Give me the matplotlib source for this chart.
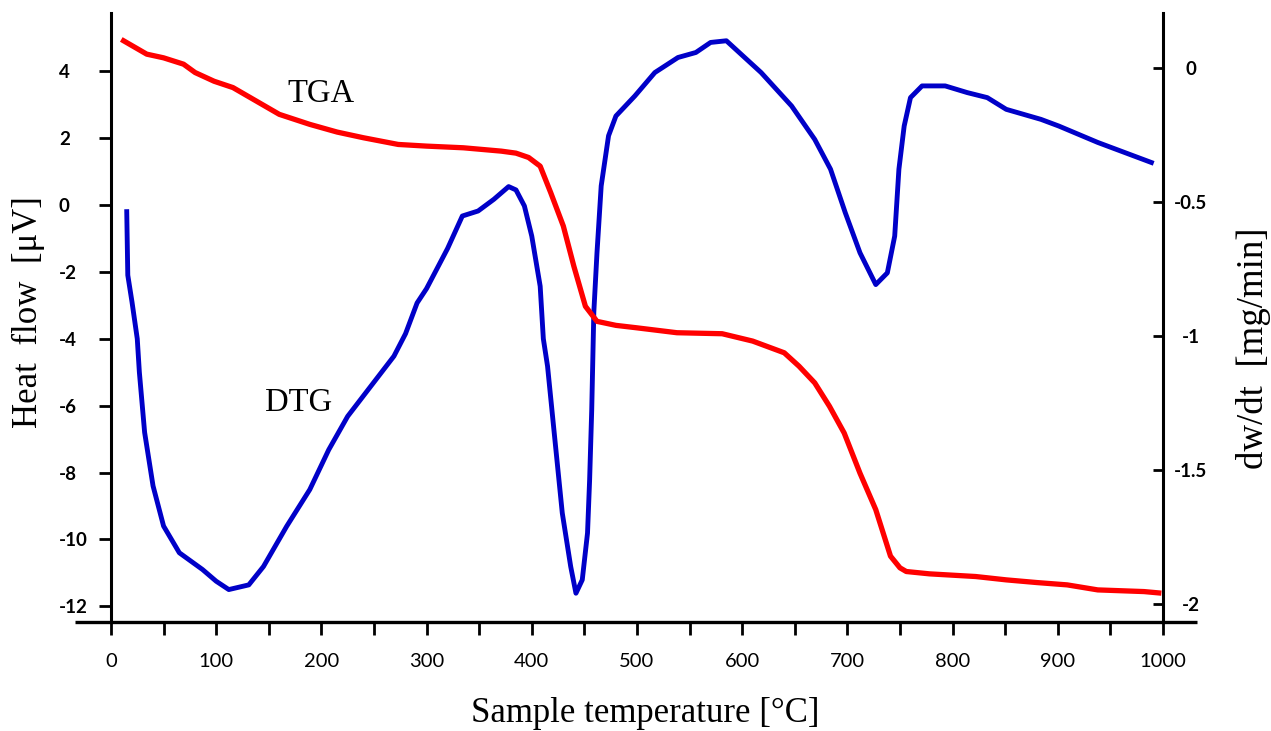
import matplotlib.pyplot as plt

plt.rcParams['axes.unicode_minus'] = False

# TGA curve (red) - temperature [°C] and value on the heat flow scale
tga_temp = [12, 23, 34, 50, 69, 80, 98, 116, 138, 160, 189, 215, 240, 273, 300,
            335, 371, 385, 397, 408, 418, 430, 440, 451, 462, 480, 499, 538, 581,
            610, 640, 654, 669, 683, 697, 712, 727, 741, 750, 756, 778, 822, 851,
            880, 909, 938, 982, 996]
tga_val = [4.91, 4.71, 4.51, 4.40, 4.21, 3.96, 3.70, 3.51, 3.11, 2.71, 2.41, 2.18,
           2.01, 1.81, 1.76, 1.71, 1.61, 1.55, 1.42, 1.16, 0.37, -0.63, -1.83,
           -3.03, -3.48, -3.60, -3.67, -3.82, -3.85, -4.07, -4.42, -4.82, -5.32,
           -6.02, -6.82, -8.02, -9.11, -10.50, -10.85, -10.96, -11.03, -11.11,
           -11.21, -11.29, -11.36, -11.51, -11.56, -11.60]

# DTG curve (blue)
dtg_temp = [15, 16, 20, 25, 27, 32, 40, 50, 65, 87, 100, 112, 131, 145, 167, 189,
            207, 225, 247, 269, 280, 291, 300, 320, 334, 349, 364, 378, 385, 393,
            400, 408, 411, 415, 422, 429, 437, 442, 448, 453, 455, 457, 459, 462,
            466, 473, 480, 498, 517, 539, 556, 570, 585, 618, 647, 669, 684, 698,
            712, 727, 738, 745, 749, 754, 760, 771, 793, 814, 833, 851, 884, 901,
            938, 989]
dtg_val = [-0.2, -2.1, -2.9, -4.0, -5.0, -6.8, -8.4, -9.6, -10.4, -10.9, -11.25,
           -11.5, -11.36, -10.81, -9.61, -8.51, -7.32, -6.32, -5.42, -4.52, -3.85,
           -2.93, -2.5, -1.3, -0.33, -0.18, 0.17, 0.55, 0.45, -0.03, -0.93, -2.43,
           -4.0, -4.82, -7.02, -9.21, -10.81, -11.61, -11.21, -9.81, -8.22, -6.12,
           -3.2, -1.43, 0.57, 2.07, 2.66, 3.26, 3.96, 4.41, 4.56, 4.86, 4.91, 3.96,
           2.96, 1.96, 1.07, -0.23, -1.43, -2.38, -2.03, -0.93, 1.07, 2.36, 3.21,
           3.56, 3.56, 3.36, 3.21, 2.86, 2.56, 2.36, 1.87, 1.27]

x_ticks = list(range(0, 1001, 50))
x_labels = [str(t) if t % 100 == 0 else '' for t in x_ticks]
left_ticks = [4, 2, 0, -2, -4, -6, -8, -10, -12]
right_ticks = [0, -0.5, -1, -1.5, -2]
right_labels = ['0', '-0.5', '-1', '-1.5', '-2']

serif = 'Liberation Serif'

fig = plt.figure(figsize=(12.71, 7.31), dpi=100)
ax = fig.add_axes([0.0873, 0.1491, 0.8277, 0.8331])
ax2 = ax.twinx()

ax.plot(dtg_temp, dtg_val, color='#0000c8', lw=3.5, solid_joinstyle='round', zorder=3)
ax.plot(tga_temp, tga_val, color='#ff0000', lw=3.8, solid_joinstyle='round', zorder=4)

ax.set_xlim(0, 1000)
ax.set_ylim(-12.47, 5.74)
ax2.set_ylim(-2.067, 0.207)

for a in (ax, ax2):
    for s in ('top', 'bottom'):
        a.spines[s].set_visible(False)
ax.spines['right'].set_visible(False)
ax2.spines['left'].set_visible(False)
ax.spines['left'].set_linewidth(2.2)
ax2.spines['right'].set_linewidth(2.2)

# x axis line reaches past both spines
ax.plot([-0.034, 1.032], [0, 0], transform=ax.transAxes, color='black',
        lw=2.4, clip_on=False, solid_capstyle='butt')

ax.set_xticks(x_ticks)
ax.set_xticklabels(x_labels, fontfamily='Lato', fontsize=14.5)
ax.tick_params(axis='x', direction='out', length=9, width=2, pad=13)

ax.set_yticks(left_ticks)
ax.set_yticklabels([str(v) for v in left_ticks], fontfamily='Lato',
                   fontweight='bold', fontsize=13.5, ha='left')
ax.tick_params(axis='y', direction='out', length=9, width=2, pad=28.5)

ax2.set_yticks(right_ticks)
ax2.set_yticklabels(right_labels, fontfamily='Lato', fontweight='bold',
                    fontsize=13.5, ha='center')
ax2.tick_params(axis='y', direction='in', length=7, width=2, pad=20)

ax.text(168, 3.07, 'TGA', fontfamily=serif, fontsize=23.5, ha='left', va='baseline')
ax.text(146, -6.17, 'DTG', fontfamily=serif, fontsize=23.5, ha='left', va='baseline')

fig.text(0.508, 0.0123, 'Sample temperature [°C]', fontfamily=serif, fontsize=25,
         ha='center', va='baseline')
fig.text(0.022, 0.573, 'Heat  flow  [μV]', fontfamily=serif, fontsize=25,
         rotation=90, ha='center', va='center')
fig.text(0.9866, 0.524, 'dw/dt  [mg/min]', fontfamily=serif, fontsize=26.5,
         rotation=90, ha='center', va='center')

fig.savefig('out.png', dpi=100)
